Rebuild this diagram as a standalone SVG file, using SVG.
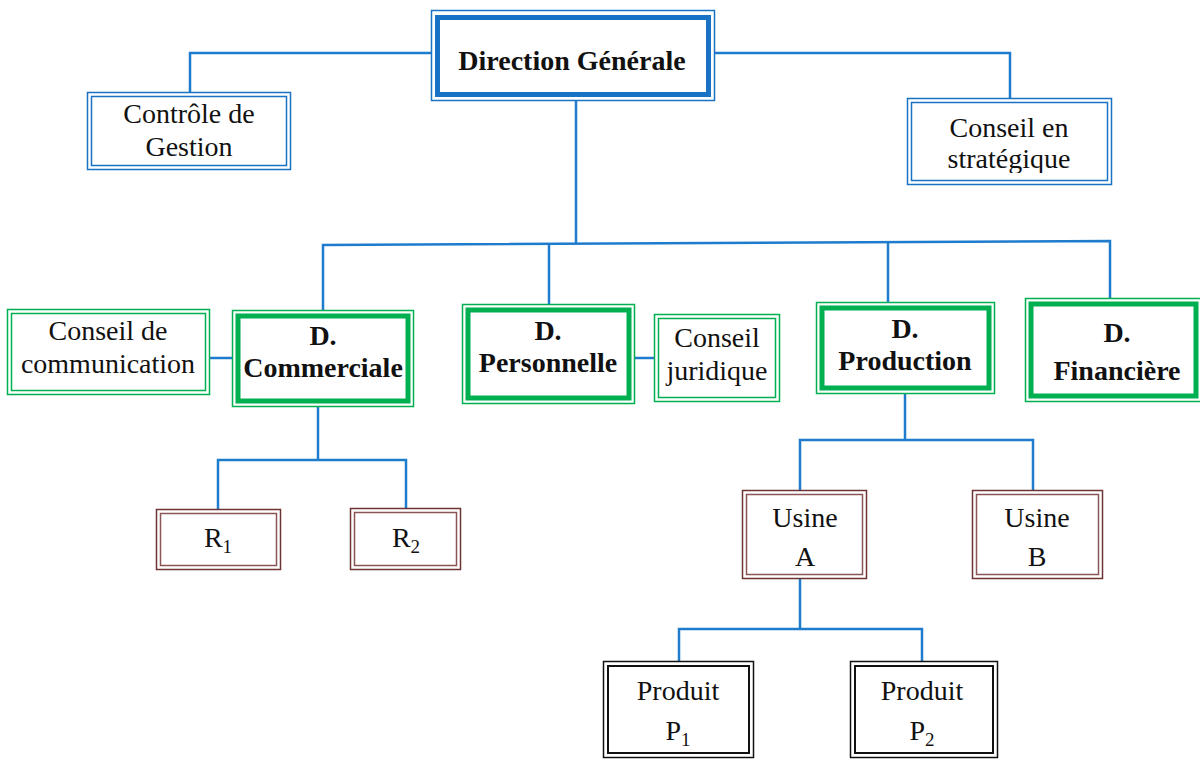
<svg xmlns="http://www.w3.org/2000/svg" width="1200" height="760" viewBox="0 0 1200 760">
<style>
.t{font-family:"Liberation Serif","Times New Roman",serif;font-size:28px;fill:#111;text-anchor:middle}
.b{font-weight:bold}
.c{fill:none;stroke:#1f7bcc;stroke-width:2.5}
.bt{fill:#fff;stroke:#1a72c4;stroke-width:1.5}
.bk{fill:none;stroke:#1a72c4;stroke-width:5}
.gt{fill:#fff;stroke:#00b050;stroke-width:1.5}
.gk{fill:none;stroke:#00b050;stroke-width:5}
.rt{fill:#fff;stroke:#6e3434;stroke-width:1.5}
.ri{fill:none;stroke:#8a5555;stroke-width:1.5}
.kt{fill:#fff;stroke:#111;stroke-width:1.5}
.ki{fill:none;stroke:#111;stroke-width:2}
</style>
<defs>
<clipPath id="clipStrat"><rect x="907" y="99" width="205" height="74"/></clipPath>
</defs>
<rect width="1200" height="760" fill="#fff"/>
<g id="connectors">
<polyline class="c" points="431,53 190,53 190,92"/>
<polyline class="c" points="714,53 1010,53 1010,99"/>
<line class="c" x1="576" y1="100" x2="576" y2="243"/>
<polyline class="c" points="323,312 323,245 1110,241 1110,298"/>
<line class="c" x1="549" y1="244" x2="549" y2="304"/>
<line class="c" x1="888" y1="242" x2="888" y2="302"/>
<line class="c" x1="209" y1="358" x2="232" y2="358"/>
<line class="c" x1="635" y1="358" x2="654" y2="358"/>
<line class="c" x1="318" y1="407" x2="318" y2="460"/>
<polyline class="c" points="218,509 218,460 406,460 406,508"/>
<line class="c" x1="905" y1="394" x2="905" y2="440"/>
<polyline class="c" points="800,490 800,440 1033,440 1033,490"/>
<line class="c" x1="800" y1="579" x2="800" y2="629"/>
<polyline class="c" points="679,661 679,629 922,629 922,661"/>
</g>
<g id="dg">
<rect class="bt" x="431.5" y="10.5" width="283" height="90"/>
<rect class="bk" x="437.5" y="17.5" width="271" height="77"/>
<text class="t b" x="572" y="70">Direction Générale</text>
</g>
<g id="controle">
<rect class="bt" x="87.5" y="92.5" width="203" height="77"/>
<rect class="bt" x="91.5" y="96.5" width="195" height="69"/>
<text class="t" x="189" y="123">Contrôle de</text>
<text class="t" x="189" y="156">Gestion</text>
</g>
<g id="strategique">
<rect class="bt" x="907.5" y="98.5" width="204" height="86"/>
<rect class="bt" x="911.5" y="102.5" width="196" height="78"/>
<g clip-path="url(#clipStrat)">
<text class="t" x="1009" y="137">Conseil en</text>
<text class="t" x="1009" y="168">stratégique</text>
</g>
</g>
<g id="communication">
<rect class="gt" x="7.5" y="309.5" width="202" height="85"/>
<rect class="gt" x="11.5" y="313.5" width="194" height="77"/>
<text class="t" x="108" y="340">Conseil de</text>
<text class="t" x="108" y="373">communication</text>
</g>
<g id="commerciale">
<rect class="gt" x="232.5" y="310.5" width="181" height="96"/>
<rect class="gk" x="238" y="316" width="170" height="85"/>
<text class="t b" x="323" y="345">D.</text>
<text class="t b" x="323" y="377">Commerciale</text>
</g>
<g id="personnelle">
<rect class="gt" x="462.5" y="304.5" width="172" height="99"/>
<rect class="gk" x="468" y="310" width="161" height="88"/>
<text class="t b" x="548" y="340">D.</text>
<text class="t b" x="548" y="372">Personnelle</text>
</g>
<g id="juridique">
<rect class="gt" x="654.5" y="314.5" width="125" height="87"/>
<rect class="gt" x="658.5" y="318.5" width="117" height="79"/>
<text class="t" x="717" y="347">Conseil</text>
<text class="t" x="717" y="380">juridique</text>
</g>
<g id="production">
<rect class="gt" x="816.5" y="302.5" width="178" height="91"/>
<rect class="gk" x="822" y="308" width="167" height="80"/>
<text class="t b" x="905" y="338">D.</text>
<text class="t b" x="905" y="370">Production</text>
</g>
<g id="financiere">
<rect class="gt" x="1025.5" y="298.5" width="176" height="103"/>
<rect class="gk" x="1031" y="304" width="165" height="92"/>
<text class="t b" x="1117" y="342">D.</text>
<text class="t b" x="1117" y="380">Financière</text>
</g>
<g id="r1">
<rect class="rt" x="156.5" y="509.5" width="124" height="60"/>
<rect class="ri" x="160.5" y="513.5" width="116" height="52"/>
<text class="t" x="218" y="547">R<tspan font-size="19" dy="6">1</tspan></text>
</g>
<g id="r2">
<rect class="rt" x="350.5" y="508.5" width="110" height="61"/>
<rect class="ri" x="354.5" y="512.5" width="102" height="53"/>
<text class="t" x="406" y="547">R<tspan font-size="19" dy="6">2</tspan></text>
</g>
<g id="usineA">
<rect class="rt" x="742.5" y="490.5" width="124" height="88"/>
<rect class="ri" x="746.5" y="494.5" width="116" height="80"/>
<text class="t" x="805" y="527">Usine</text>
<text class="t" x="805" y="566">A</text>
</g>
<g id="usineB">
<rect class="rt" x="972.5" y="490.5" width="130" height="88"/>
<rect class="ri" x="976.5" y="494.5" width="122" height="80"/>
<text class="t" x="1037" y="527">Usine</text>
<text class="t" x="1037" y="566">B</text>
</g>
<g id="p1">
<rect class="kt" x="603.5" y="661.5" width="150" height="96"/>
<rect class="ki" x="608" y="666" width="141" height="87"/>
<text class="t" x="678" y="700">Produit</text>
<text class="t" x="678" y="740">P<tspan font-size="19" dy="6">1</tspan></text>
</g>
<g id="p2">
<rect class="kt" x="850.5" y="661.5" width="147" height="96"/>
<rect class="ki" x="855" y="666" width="138" height="87"/>
<text class="t" x="922" y="700">Produit</text>
<text class="t" x="922" y="740">P<tspan font-size="19" dy="6">2</tspan></text>
</g>
</svg>
